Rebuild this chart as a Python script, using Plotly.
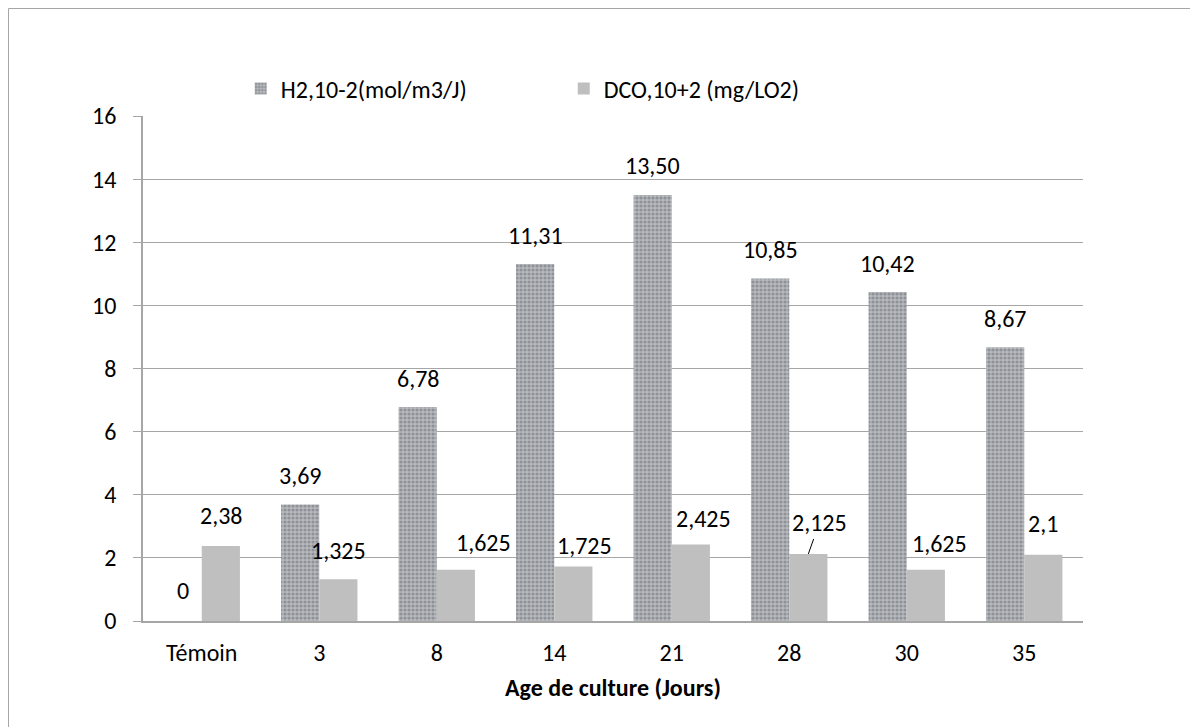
import numpy as np
import plotly.graph_objects as go

categories = ["Témoin", "3", "8", "14", "21", "28", "30", "35"]
h2_values = [0, 3.69, 6.78, 11.31, 13.50, 10.85, 10.42, 8.67]
dco_values = [2.38, 1.325, 1.625, 1.725, 2.425, 2.125, 1.625, 2.1]
h2_labels = ["0", "3,69", "6,78", "11,31", "13,50", "10,85", "10,42", "8,67"]
dco_labels = ["2,38", "1,325", "1,625", "1,725", "2,425", "2,125", "1,625", "2,1"]
y_ticks = [0, 2, 4, 6, 8, 10, 12, 14, 16]

series_names = ["H2,10-2(mol/m3/J)", "DCO,10+2 (mg/LO2)"]

FONT = "Calibri, Carlito, Lato, sans-serif"
FS = 24
x = np.arange(len(categories))

# label nudges (pixels) to mimic manual placement in the original
dco_dx = [0, 0, 28, 11, 13, 11, 14, 0]
dco_dy = [30, 29, 27, 21, 26, 31, 26, 31]

W, H = 1190, 719
L, T, R, B = 135, 108, 115, 106
PW, PH = W - L - R, H - T - B

fig = go.Figure()
fig.add_trace(go.Bar(
    x=x, y=h2_values, name=series_names[0],
    marker=dict(color="#a3a7ab", line=dict(width=0),
                pattern=dict(shape=".", fgcolor="#65696e", bgcolor="#b6b9bd",
                             size=4, solidity=0.5)),
))
fig.add_trace(go.Bar(
    x=x, y=dco_values, name=series_names[1],
    marker=dict(color="#bfbfbf", line=dict(width=0)),
))

bw = 0.325
annotations = []
for i, (v, t) in enumerate(zip(h2_values, h2_labels)):
    annotations.append(dict(x=i - bw / 2, y=v, text=t, showarrow=False,
                            yshift=29 if v > 0 else 31, yanchor="middle", xanchor="center",
                            font=dict(family=FONT, size=FS, color="#000")))
for i, (v, t) in enumerate(zip(dco_values, dco_labels)):
    if i == 5:
        annotations.append(dict(x=i + bw / 2, y=v, text=t, showarrow=True,
                                arrowhead=0, arrowwidth=1, arrowcolor="#000",
                                ax=11, ay=-31, standoff=0,
                                font=dict(family=FONT, size=FS, color="#000")))
    else:
        annotations.append(dict(x=i + bw / 2, y=v, text=t, showarrow=False,
                                xshift=dco_dx[i], yshift=dco_dy[i],
                                yanchor="middle", xanchor="center",
                                font=dict(family=FONT, size=FS, color="#000")))

fig.update_layout(
    width=W, height=H,
    margin=dict(l=L, r=R, t=T, b=B),
    paper_bgcolor="white", plot_bgcolor="white",
    barmode="group", bargap=0.35, bargroupgap=0,
    font=dict(family=FONT, size=FS, color="#000"),
    showlegend=True,
    legend=dict(orientation="h", x=0.104, xanchor="left", y=1 + (T - 81) / PH, yanchor="middle",
                font=dict(family=FONT, size=FS), entrywidth=278, entrywidthmode="pixels",
                itemwidth=30, bgcolor="rgba(0,0,0,0)"),
    annotations=annotations,
    shapes=[dict(type="rect", xref="paper", yref="paper",
                 x0=(0.5 - L) / PW, x1=1.3, y0=-0.4, y1=1 + (T - 0.5) / PH,
                 line=dict(color="#a6a6a6", width=1), fillcolor="rgba(0,0,0,0)",
                 layer="below")],
)

fig.update_xaxes(
    range=[-0.5, len(categories) - 0.5],
    tickvals=x, ticktext=categories,
    showline=True, linecolor="#a6a6a6", linewidth=1.5,
    showgrid=False, zeroline=False, ticks="",
    ticklabelstandoff=9,
    tickfont=dict(family=FONT, size=FS),
    title=dict(text="<b>Age de culture (Jours)</b>", font=dict(family=FONT, size=24), standoff=14),
)
fig.update_yaxes(
    range=[0, 16], tickvals=y_ticks,
    showline=True, linecolor="#a6a6a6", linewidth=1.5,
    showgrid=True, gridcolor="#a6a6a6", gridwidth=1.2,
    zeroline=False, ticks="outside", ticklen=8, tickcolor="#a6a6a6", tickwidth=1.2,
    ticklabelstandoff=12,
    tickfont=dict(family=FONT, size=FS),
)

fig.write_html("out.html")
